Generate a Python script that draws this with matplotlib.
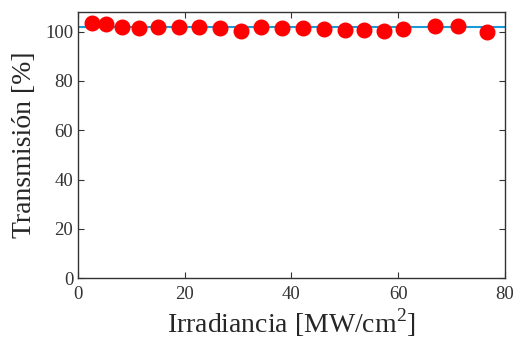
import matplotlib

matplotlib.use("Agg")
import matplotlib.pyplot as plt

# irradiance [MW/cm^2] and transmission [%]
irradiance = [2.6, 5.2, 8.2, 11.5, 15.0, 18.9, 22.7, 26.6, 30.6, 34.2,
              38.3, 42.2, 46.1, 50.0, 53.7, 57.4, 61.0, 66.9, 71.2, 76.7]
transmission = [103.5, 103.2, 101.8, 101.4, 101.9, 101.9, 101.9, 101.4, 100.4, 101.9,
                101.5, 101.5, 101.1, 100.7, 100.7, 100.1, 101.1, 102.3, 102.3, 99.9]
fit_x = [0, 80]
fit_y = [101.8, 101.8]

plt.rcParams["font.family"] = ["Liberation Serif", "DejaVu Serif"]
plt.rcParams["mathtext.fontset"] = "custom"
plt.rcParams["mathtext.rm"] = "Liberation Serif"

fig = plt.figure(figsize=(5.14, 3.49), dpi=100)
ax = fig.add_axes([0.152, 0.203, 0.830, 0.763])
ax.plot(fit_x, fit_y, color="#1a9bd7", lw=1.5, zorder=2)
ax.plot(irradiance, transmission, "o", color="red", ms=10.5, zorder=3)

ax.set_xlim(0, 80)
ax.set_ylim(0, 108)
ax.set_xticks([0, 20, 40, 60, 80])
ax.set_yticks([0, 20, 40, 60, 80, 100])
ax.tick_params(direction="in", labelsize=13.5, length=4.5, top=True, right=True,
               labeltop=False, labelright=False, colors="#333333")
ax.tick_params(axis="x", pad=6)
for side in ax.spines.values():
    side.set_color("#333333")
    side.set_linewidth(1.0)
ax.set_xlabel("Irradiancia [MW/cm$^\\mathrm{2}$]", fontsize=20, labelpad=2, color="#262626")
ax.set_ylabel("Transmisión [%]", fontsize=20, labelpad=6, color="#262626")

fig.savefig("out.png", dpi=100)
plt.close(fig)
